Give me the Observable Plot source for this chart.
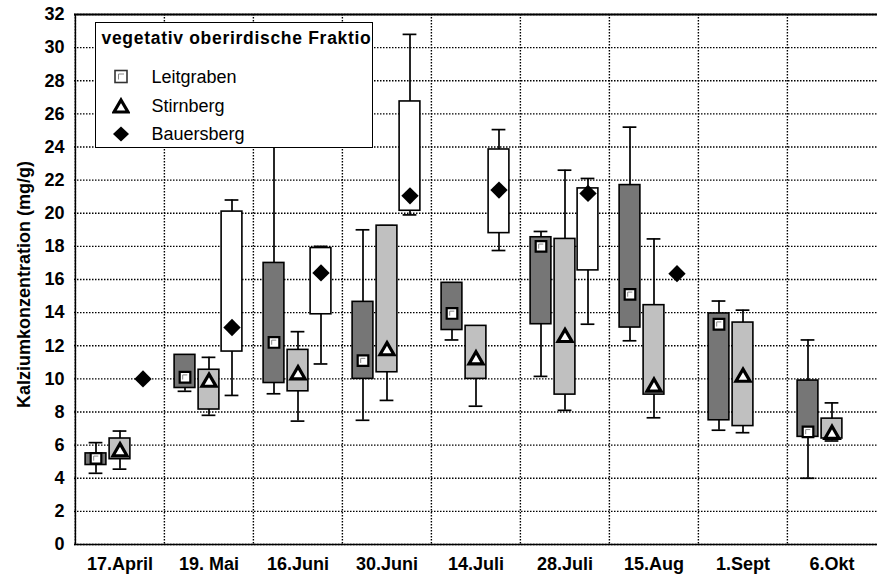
<!DOCTYPE html>
<html>
<head>
<meta charset="utf-8">
<script src="https://cdn.jsdelivr.net/npm/d3@7"></script>
<script src="https://cdn.jsdelivr.net/npm/@observablehq/plot@0.6"></script>
<style>
  body { margin: 0; background: #fff; }
  #wrap { position: relative; width: 877px; height: 574px; }
  #legend { position: absolute; left: 95px; top: 22px; width: 278px; height: 126px; border: 1.5px solid #000; background: #fff; overflow: hidden; box-sizing: border-box; font-family: "Liberation Sans", Arial, sans-serif; color: #000; }
  #legend .title { position: absolute; left: 5.5px; top: 6.5px; font-weight: bold; font-size: 17.5px; letter-spacing: 0.7px; line-height: 1; white-space: nowrap; }
  #legend .row { position: absolute; left: 0; height: 24px; display: flex; align-items: center; font-size: 18px; line-height: 1; }
  #legend .row svg { position: absolute; left: 16px; top: 3px; width: 18px; height: 18px; }
  #legend .row span { position: absolute; left: 55.5px; top: 3px; white-space: nowrap; }
</style>
</head>
<body>
<div id="wrap">
  <div id="chart"></div>
  <div id="legend">
    <div class="title">vegetativ oberirdische Fraktion</div>
    <div class="row" style="top:42px"><svg viewBox="0 0 18 18"><rect x="3" y="2.5" width="12" height="12" fill="#fff" stroke="#333" stroke-width="1.6"/><path d="M6.5 11.5 V6 H12" fill="none" stroke="#888" stroke-width="1"/></svg><span>Leitgraben</span></div>
    <div class="row" style="top:71px"><svg viewBox="0 0 18 18"><path d="M9 3 L16 15 H2 Z" fill="#fff" stroke="#000" stroke-width="3.2" stroke-linejoin="miter"/></svg><span>Stirnberg</span></div>
    <div class="row" style="top:99px"><svg viewBox="0 0 18 18"><path d="M9 1.5 L17 9 L9 16.5 L1 9 Z" fill="#000"/></svg><span>Bauersberg</span></div>
  </div>
</div>
<script>
const dates = ["17.April", "19. Mai", "16.Juni", "30.Juni", "14.Juli", "28.Juli", "15.Aug", "1.Sept", "6.Okt"];
const yTicks = [0, 2, 4, 6, 8, 10, 12, 14, 16, 18, 20, 22, 24, 26, 28, 30, 32];
const seriesNames = ["Leitgraben", "Stirnberg", "Bauersberg"];
const yTitle = "Kalziumkonzentration (mg/g)";

// Leitgraben
const leitMean = [5.2, 10.1, 12.2, 11.1, 13.95, 18.0, 15.1, 13.3, 6.8];
const leitQ1   = [4.8, 9.45, 9.75, 10.0, 12.95, 13.3, 13.1, 7.5, 6.5];
const leitQ3   = [5.5, 11.45, 17.0, 14.65, 15.8, 18.55, 21.7, 13.95, 9.9];
const leitLo   = [4.3, 9.25, 9.1, 7.5, 12.35, 10.15, 12.3, 6.9, 4.0];
const leitHi   = [6.15, 11.45, 27.0, 19.0, 15.8, 18.9, 25.2, 14.7, 12.35];

// Stirnberg
const stirMean = [5.6, 9.8, 10.25, 11.7, 11.15, 12.5, 9.5, 10.1, 6.65];
const stirQ1   = [5.15, 8.15, 9.25, 10.4, 10.0, 9.05, 9.05, 7.15, 6.4];
const stirQ3   = [6.4, 10.55, 11.75, 19.25, 13.2, 18.45, 14.45, 13.4, 7.6];
const stirLo   = [4.55, 7.8, 7.45, 8.7, 8.35, 8.1, 7.65, 6.75, 6.25];
const stirHi   = [6.85, 11.3, 12.85, 19.25, 13.2, 22.6, 18.45, 14.15, 8.55];

// Bauersberg
const bauMean = [10.0, 13.1, 16.4, 21.05, 21.4, 21.2, 16.35, null, null];
const bauQ1   = [null, 11.65, 13.9, 20.15, 18.8, 16.55, null, null, null];
const bauQ3   = [null, 20.1, 17.9, 26.75, 23.85, 21.5, null, null, null];
const bauLo   = [null, 9.0, 10.9, 19.9, 17.75, 13.3, null, null, null];
const bauHi   = [null, 20.8, 18.0, 30.8, 25.05, 22.1, null, null, null];

const seriesData = [
  [leitMean, leitQ1, leitQ3, leitLo, leitHi],
  [stirMean, stirQ1, stirQ3, stirLo, stirHi],
  [bauMean, bauQ1, bauQ3, bauLo, bauHi]
].map(([m, q1, q3, lo, hi], k) => dates.map((d, i) => ({
  series: seriesNames[k], date: d, mean: m[i], q1: q1[i], q3: q3[i], lo: lo[i], hi: hi[i]
})));

const W = 877, H = 574, mL = 74, mR = 0, mT = 14, mB = 30;
const step = (W - mL - mR) / dates.length;
const offsets = [-24, 0, 23];
const fills = ["#767676", "#c0c0c0", "#ffffff"];
const boxW = 21, capW = 14;
const boxInset = (step - boxW) / 2, capInset = (step - capW) / 2;

// custom corner symbol for the inner mark of the square
const corner = {
  draw(ctx, size) {
    const s = Math.sqrt(size) / 2;
    ctx.moveTo(-s, s); ctx.lineTo(-s, -s); ctx.lineTo(s, -s);
  }
};

const dotted = {stroke: "#000", strokeWidth: 1.4, strokeDasharray: "1.5,1.5"};

const marks = [
  Plot.ruleY(yTicks, {y: d => d, ...dotted}),
  Plot.ruleX(dates, {x: d => d, dx: -step / 2, ...dotted}),
  Plot.ruleY([32], {stroke: "#000", strokeWidth: 2}),
  Plot.ruleY([0], {stroke: "#000", strokeWidth: 1.5}),
  Plot.ruleX([dates[0]], {x: d => d, dx: -step / 2, stroke: "#000", strokeWidth: 1.5}),
  Plot.text([yTitle], {text: d => d, frameAnchor: "left", textAnchor: "middle", lineAnchor: "middle", rotate: -90, dx: -50, dy: 5, fontSize: 18, fontWeight: "bold", fill: "#000"})
];

seriesData.forEach((rows, k) => {
  const dx = offsets[k];
  const w = rows.filter(r => r.lo != null);
  const b = rows.filter(r => r.q1 != null);
  marks.push(
    Plot.ruleX(w, {x: "date", y1: "lo", y2: "hi", dx, stroke: "#000", strokeWidth: 1.7}),
    Plot.tickY(w, {x: "date", y: "lo", dx, insetLeft: capInset, insetRight: capInset, stroke: "#000", strokeWidth: 1.7}),
    Plot.tickY(w, {x: "date", y: "hi", dx, insetLeft: capInset, insetRight: capInset, stroke: "#000", strokeWidth: 1.7}),
    Plot.barY(b, {x: "date", y1: "q1", y2: "q3", dx, insetLeft: boxInset, insetRight: boxInset, fill: fills[k], stroke: "#000", strokeWidth: 1.6})
  );
});

const mL_ = seriesData[0].filter(r => r.mean != null);
const mS_ = seriesData[1].filter(r => r.mean != null);
const mB_ = seriesData[2].filter(r => r.mean != null);
marks.push(
  Plot.dot(mL_, {x: "date", y: "mean", dx: offsets[0], symbol: "square", r: 6, fill: "#fff", stroke: "#000", strokeWidth: 2.2}),
  Plot.dot(mL_, {x: "date", y: "mean", dx: offsets[0], symbol: corner, r: 2.6, fill: "none", stroke: "#888", strokeWidth: 1}),
  Plot.dot(mS_, {x: "date", y: "mean", dx: offsets[1], symbol: "triangle", r: 5.2, fill: "#fff", stroke: "#000", strokeWidth: 3.2, strokeLinejoin: "miter"}),
  Plot.dot(mB_, {x: "date", y: "mean", dx: offsets[2], symbol: "diamond2", r: 7.8, fill: "#000", stroke: "none"})
);

const chart = Plot.plot({
  width: W, height: H,
  marginLeft: mL, marginRight: mR, marginTop: mT, marginBottom: mB,
  style: {fontFamily: "'Liberation Sans', Arial, sans-serif", fontSize: "18px", fontWeight: "bold", background: "#fff", overflow: "visible", color: "#000"},
  x: {type: "band", domain: dates, padding: 0, tickSize: 0, tickPadding: 13, label: null},
  y: {domain: [0, 32], ticks: yTicks, tickSize: 0, tickPadding: 10, label: null},
  marks
});
document.getElementById("chart").appendChild(chart);
</script>
</body>
</html>
